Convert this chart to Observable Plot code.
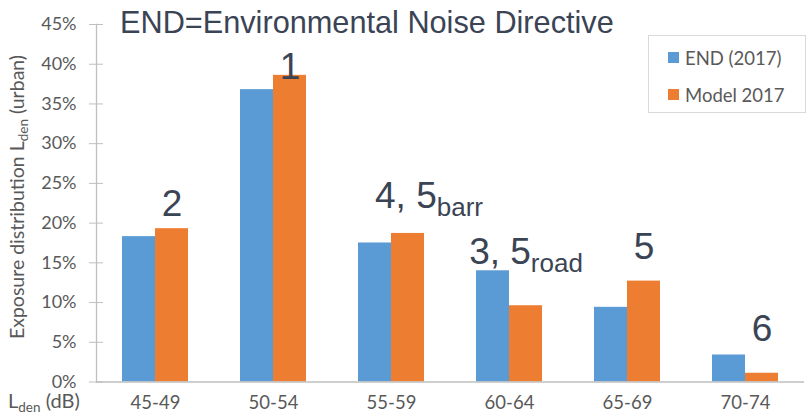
<!DOCTYPE html>
<html>
<head>
<meta charset="utf-8">
<script src="https://cdn.jsdelivr.net/npm/d3@7"></script>
<script src="https://cdn.jsdelivr.net/npm/@observablehq/plot@0.6"></script>
<style>
  body { margin: 0; background: #fff; }
  #chart { position: relative; width: 806px; height: 414px; }
  #chart svg { overflow: visible; }
</style>
</head>
<body>
<div id="chart"></div>
<script>
// Noise exposure distribution by Lden band (urban population share)
const categories = ["45-49", "50-54", "55-59", "60-64", "65-69", "70-74"];
const seriesNames = ["END (2017)", "Model 2017"];
const endValues = [0.183, 0.368, 0.175, 0.140, 0.094, 0.034];
const modelValues = [0.193, 0.386, 0.187, 0.096, 0.127, 0.011];
const yTicks = [0, 0.05, 0.10, 0.15, 0.20, 0.25, 0.30, 0.35, 0.40, 0.45];

// Scenario numbers written above the bands
const noteCategories = ["45-49", "50-54", "55-59", "60-64", "65-69", "70-74"];
const noteSeries = ["Model 2017", "Model 2017", "END (2017)", "Model 2017", "Model 2017", "Model 2017"];
const noteMain = ["2", "1", "4, 5", "3, 5", "5", "6"];
const noteSub = ["", "", "barr", "road", "", ""];
const noteY = [0.224, 0.3965, 0.2335, 0.164, 0.170, 0.0667];

const titleText = "END=Environmental Noise Directive";

const table = categories.flatMap((c, i) => [
  {category: c, series: seriesNames[0], value: endValues[i]},
  {category: c, series: seriesNames[1], value: modelValues[i]}
]);
const notes = noteCategories.map((c, i) => ({
  category: c, series: noteSeries[i], main: noteMain[i], sub: noteSub[i], y: noteY[i]
}));

const axisGrey = "#BFBFBF";
const labelGrey = "#595959";
const noteColor = "#3B4455";
const noteFont = "'Liberation Sans', Arial, sans-serif";

const plot = Plot.plot({
  width: 806,
  height: 414,
  marginLeft: 93,
  marginRight: 0,
  marginTop: 24,
  marginBottom: 32.5,
  style: {fontFamily: "Lato, sans-serif", background: "white", overflow: "visible"},
  fx: {domain: categories, padding: 0, label: null},
  x: {domain: seriesNames, paddingInner: 0, paddingOuter: 0.75, axis: null},
  y: {domain: [0, 0.45]},
  color: {domain: seriesNames, range: ["#5B9BD5", "#ED7D31"]},
  marks: [
    Plot.barY(table, {fx: "category", x: "series", y: "value", fill: "series"}),
    Plot.ruleY([0], {stroke: axisGrey, strokeWidth: 1.3}),
    Plot.frame({anchor: "left", stroke: axisGrey, strokeWidth: 1.3, facetAnchor: "left"}),
    Plot.axisY({ticks: yTicks, tickSize: 14, dx: 7, tickFormat: () => "", stroke: axisGrey, label: null}),
    Plot.axisY({ticks: yTicks, tickSize: 0, tickPadding: 20, tickFormat: d3.format(".0%"),
                fontSize: 18, fill: labelGrey, label: null}),
    Plot.axisFx({anchor: "bottom", tickSize: 0, tickPadding: 14, fontSize: 18.5, fill: labelGrey, label: null}),
    Plot.text(notes.filter(d => d.series === seriesNames[1]), {
      fx: "category", x: "series", y: "y", text: "main",
      textAnchor: "middle", fontSize: 37, fontFamily: noteFont, fill: noteColor
    }),
    Plot.text(notes.filter(d => d.series === seriesNames[0]), {
      fx: "category", x: "series", y: "y", text: "main",
      textAnchor: "start", fontSize: 37, fontFamily: noteFont, fill: noteColor
    })
  ]
});

document.getElementById("chart").appendChild(plot);
const svg = d3.select(plot);

// Subscripts on the scenario labels
const subByMain = new Map(notes.map(d => [d.main, d.sub]));
svg.selectAll('g[aria-label="text"] text').each(function () {
  const sub = subByMain.get(this.textContent);
  if (sub) d3.select(this).append("tspan").attr("font-size", 26).attr("dy", 8).text(sub);
});

// Title
svg.append("text")
  .attr("x", 120).attr("y", 33)
  .attr("text-anchor", "start")
  .attr("font-family", noteFont).attr("font-size", 30.7)
  .attr("fill", noteColor)
  .text(titleText);

// Legend box
const color = plot.scale("color");
const legend = svg.append("g")
  .attr("text-anchor", "start")
  .attr("font-family", "Lato, sans-serif").attr("font-size", 18.5);
legend.append("rect")
  .attr("x", 648.5).attr("y", 35.5).attr("width", 157).attr("height", 77)
  .attr("fill", "white").attr("stroke", "#D9D9D9");
seriesNames.forEach((s, i) => {
  legend.append("rect")
    .attr("x", 668).attr("y", 52 + i * 37).attr("width", 11).attr("height", 11)
    .attr("fill", color.apply(s));
  legend.append("text")
    .attr("x", 685).attr("y", 65 + i * 36.5)
    .attr("fill", labelGrey).text(s);
});

// Y axis title with subscript
const yTitle = svg.append("text")
  .attr("transform", "translate(24,197) rotate(-90)")
  .attr("text-anchor", "middle")
  .attr("font-family", "Lato, sans-serif").attr("font-size", 19.5)
  .attr("fill", labelGrey);
yTitle.append("tspan").text("Exposure distribution L");
yTitle.append("tspan").attr("font-size", 13.5).attr("dy", 4).text("den");
yTitle.append("tspan").attr("dy", -4).text(" (urban)");

// X axis title with subscript
const xTitle = svg.append("text")
  .attr("x", 8).attr("y", 408)
  .attr("text-anchor", "start")
  .attr("font-family", "Lato, sans-serif").attr("font-size", 20)
  .attr("fill", labelGrey);
xTitle.append("tspan").text("L");
xTitle.append("tspan").attr("font-size", 13.5).attr("dy", 4).text("den");
xTitle.append("tspan").attr("dy", -4).text(" (dB)");
</script>
</body>
</html>
